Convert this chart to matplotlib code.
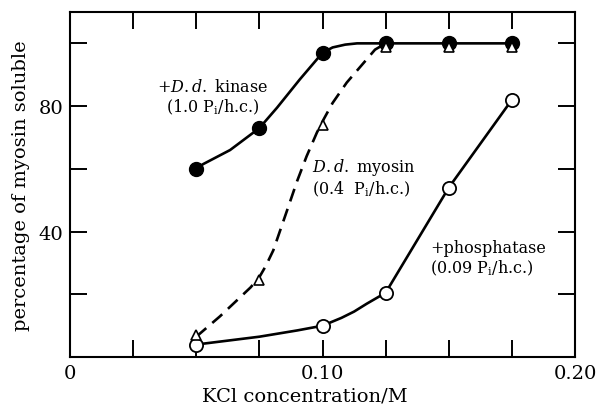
import matplotlib
matplotlib.use("Agg")
import matplotlib.pyplot as plt

plt.rcParams["font.family"] = "DejaVu Serif"
plt.rcParams["mathtext.fontset"] = "dejavuserif"

# measured points
kcl = [0.05, 0.075, 0.10, 0.125, 0.15, 0.175]
kinase = [60, 73, 97, 100, 100, 100]
myosin = [7, 24.5, 74, 99, 99, 99]
phos_x = [0.05, 0.10, 0.125, 0.15, 0.175]
phos = [4, 10, 20.5, 54, 82]

# hand-drawn guide curves
kinase_curve_x = [0.05, 0.0527, 0.0634, 0.075, 0.082, 0.091, 0.10, 0.104, 0.109, 0.1137, 0.125, 0.15, 0.175]
kinase_curve_y = [60, 61.5, 66, 73, 79.5, 88.5, 97, 98.7, 99.6, 100, 100, 100, 100]
myosin_curve_x = [0.05, 0.0594, 0.0673, 0.0715, 0.075, 0.0775, 0.0805, 0.0835, 0.0865, 0.0899, 0.0937,
                  0.0978, 0.1006, 0.104, 0.1096, 0.116, 0.1208, 0.125]
myosin_curve_y = [6.5, 13, 19, 22.2, 25.5, 29, 34, 41, 48, 56, 64, 71.6, 76, 81, 87.5, 93.5, 98, 100]
phos_curve_x = [0.05, 0.075, 0.09, 0.10, 0.1075, 0.1125, 0.1175, 0.125, 0.15, 0.175]
phos_curve_y = [4, 6.5, 8.5, 10, 12.5, 14.5, 17, 20.5, 54, 82]

fig = plt.figure(figsize=(6, 4.06), dpi=100)
ax = fig.add_axes([0.1167, 0.118, 0.8416, 0.85])

lw = 1.9
ax.plot(kinase_curve_x, kinase_curve_y, color="black", lw=lw, zorder=2)
ax.plot(myosin_curve_x, myosin_curve_y, color="black", lw=lw, dashes=(5, 3), zorder=2)
ax.plot(phos_curve_x, phos_curve_y, color="black", lw=lw, zorder=2)

ax.plot(kcl, kinase, "o", color="black", ms=10, zorder=3)
ax.plot(phos_x, phos, "o", mfc="white", mec="black", mew=1.3, ms=9.5, zorder=3)
ax.plot(kcl, myosin, "^", mfc="white", mec="black", mew=1.2, ms=7, zorder=4)

ax.set_xlim(0, 0.20)
ax.set_ylim(0, 110)
ax.set_xticks([0, 0.025, 0.05, 0.075, 0.10, 0.125, 0.15, 0.175, 0.20])
ax.set_xticklabels(["0", "", "", "", "0.10", "", "", "", "0.20"])
ax.set_yticks([0, 20, 40, 60, 80, 100])
ax.set_yticklabels(["", "", "40", "", "80", ""])
ax.tick_params(direction="in", length=12, width=1.4, top=True, right=True,
               labelsize=14, pad=5)
for s in ax.spines.values():
    s.set_linewidth(1.5)

ax.set_xlabel("KCl concentration/M", fontsize=14)
ax.xaxis.set_label_coords(0.465, -0.085)
ax.set_ylabel("percentage of myosin soluble", fontsize=14, labelpad=6)

ax.text(0.0566, 82.8, "+$\\mathit{D.d.}$ kinase\n(1.0 P$_\\mathrm{i}$/h.c.)",
        ha="center", va="center", fontsize=11.5, linespacing=1.1)
ax.text(0.0958, 57.3, "$\\mathit{D.d.}$ myosin\n(0.4  P$_\\mathrm{i}$/h.c.)",
        ha="left", va="center", fontsize=11.5, linespacing=1.1)
ax.text(0.1426, 31.5, "+phosphatase\n(0.09 P$_\\mathrm{i}$/h.c.)",
        ha="left", va="center", fontsize=11.5, linespacing=1.1)

fig.savefig("out.png", dpi=100)
